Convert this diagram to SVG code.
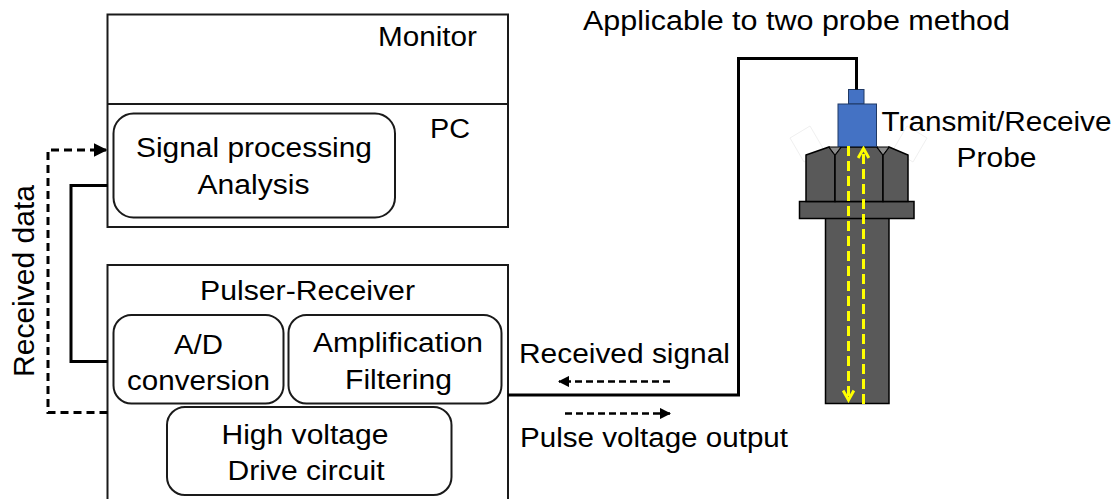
<svg xmlns="http://www.w3.org/2000/svg" width="1120" height="499" viewBox="0 0 1120 499">
  <style>
    .box { fill: #ffffff; stroke: #1a1a1a; stroke-width: 2; }
    .rbox { fill: #ffffff; stroke: #1a1a1a; stroke-width: 2; }
    .lbl { font-family: "Liberation Sans", Arial, sans-serif; font-size: 27px; fill: #000000; }
    .solid { fill: none; stroke: #000000; stroke-width: 3; }
    .dash { fill: none; stroke: #000000; stroke-width: 3; stroke-dasharray: 8 5; }
    .sdash { fill: none; stroke: #000000; stroke-width: 2.5; stroke-dasharray: 7 4; }
    .metal { fill: #595959; stroke: #000000; stroke-width: 1.5; }
    .blue { fill: #4472c4; stroke: #1f3864; stroke-width: 1; }
    .ray { fill: none; stroke: #ffff00; stroke-width: 3; stroke-dasharray: 10 5; }
  </style>
  <defs>
    <marker id="arrowBlack" viewBox="0 0 10 10" refX="9" refY="5" markerWidth="4.5" markerHeight="4.5" orient="auto" markerUnits="strokeWidth">
      <path d="M0,0 L10,5 L0,10 Z" fill="#000000"/>
    </marker>
    <marker id="arrowYellow" viewBox="0 0 10 10" refX="8" refY="5" markerWidth="4.5" markerHeight="4.5" orient="auto" markerUnits="strokeWidth">
      <path d="M1,1 L8,5 L1,9" fill="none" stroke="#ffff00" stroke-width="2.2"/>
    </marker>
  </defs>

  <!-- PC unit with monitor -->
  <g id="pc">
    <rect class="box" x="107.5" y="14.5" width="400.5" height="212.5"/>
    <line x1="107.5" y1="104" x2="508" y2="104" stroke="#1a1a1a" stroke-width="2"/>
    <text class="lbl" x="378" y="46" textLength="99" lengthAdjust="spacingAndGlyphs">Monitor</text>
    <text class="lbl" x="430" y="137.5" textLength="40" lengthAdjust="spacingAndGlyphs">PC</text>
  </g>
  <g id="signal-processing">
    <rect class="rbox" x="113.5" y="113.5" width="281.5" height="104" rx="20"/>
    <text class="lbl" x="136" y="156.5" textLength="236" lengthAdjust="spacingAndGlyphs">Signal processing</text>
    <text class="lbl" x="197.5" y="194" textLength="112" lengthAdjust="spacingAndGlyphs">Analysis</text>
  </g>

  <!-- Pulser-Receiver unit -->
  <g id="pulser-receiver">
    <rect class="box" x="107.5" y="265" width="400.5" height="245"/>
    <text class="lbl" x="200" y="300" textLength="215" lengthAdjust="spacingAndGlyphs">Pulser-Receiver</text>
  </g>
  <g id="ad-conversion">
    <rect class="rbox" x="113.5" y="315" width="170" height="88.5" rx="18"/>
    <text class="lbl" x="174" y="354" textLength="49" lengthAdjust="spacingAndGlyphs">A/D</text>
    <text class="lbl" x="127" y="390" textLength="143" lengthAdjust="spacingAndGlyphs">conversion</text>
  </g>
  <g id="amplification">
    <rect class="rbox" x="288.5" y="315" width="213" height="88.5" rx="18"/>
    <text class="lbl" x="313" y="351.5" textLength="170" lengthAdjust="spacingAndGlyphs">Amplification</text>
    <text class="lbl" x="345" y="388.5" textLength="107" lengthAdjust="spacingAndGlyphs">Filtering</text>
  </g>
  <g id="drive-circuit">
    <rect class="rbox" x="167" y="407" width="284.5" height="88" rx="18"/>
    <text class="lbl" x="221.5" y="444" textLength="167" lengthAdjust="spacingAndGlyphs">High voltage</text>
    <text class="lbl" x="227.5" y="480" textLength="157" lengthAdjust="spacingAndGlyphs">Drive circuit</text>
  </g>

  <!-- Probe on bolt -->
  <g id="probe">
    <!-- faint outlines behind the nut -->
    <polygon points="790,138 810,126 824,150 804,162" fill="none" stroke="#f0f0f0" stroke-width="1"/>
    <polygon points="893,150 907,126 927,138 913,162" fill="none" stroke="#f0f0f0" stroke-width="1"/>
    <!-- shank -->
    <rect class="metal" x="825.5" y="217" width="63.5" height="186.5"/>
    <!-- flange -->
    <rect class="metal" x="799.5" y="201.5" width="114.5" height="17"/>
    <!-- hex nut faces -->
    <polygon class="metal" points="806,155 829,147 835,155 835,201.5 806,201.5"/>
    <polygon class="metal" points="835,155 841,147 877,147 883,155 883,201.5 835,201.5"/>
    <polygon class="metal" points="883,155 889,147 908,155 908,201.5 883,201.5"/>
    <polygon points="829,147 841,147 835,155" fill="#8c8c8c" stroke="#000000" stroke-width="1"/>
    <polygon points="877,147 889,147 883,155" fill="#8c8c8c" stroke="#000000" stroke-width="1"/>
    <!-- transducer -->
    <rect class="blue" x="848.5" y="89.5" width="15.5" height="14.5"/>
    <rect class="blue" x="838" y="104" width="38.5" height="42.5"/>
    <!-- ultrasonic paths -->
    <line class="ray" x1="848.5" y1="146" x2="848.5" y2="400" marker-end="url(#arrowYellow)"/>
    <line class="ray" x1="863.5" y1="404" x2="863.5" y2="148.5" marker-end="url(#arrowYellow)"/>
    <text class="lbl" x="881.5" y="131" textLength="230" lengthAdjust="spacingAndGlyphs">Transmit/Receive</text>
    <text class="lbl" x="956.5" y="166.5" textLength="80" lengthAdjust="spacingAndGlyphs">Probe</text>
  </g>

  <g id="note">
    <text class="lbl" x="583" y="29.5" textLength="427" lengthAdjust="spacingAndGlyphs">Applicable to two probe method</text>
  </g>

  <!-- connectors -->
  <g id="connectors">
    <polyline class="solid" points="107.5,185.5 71,185.5 71,361.5 107.5,361.5"/>
    <polyline class="dash" points="107.5,412.5 48,412.5 48,150 106,150" marker-end="url(#arrowBlack)"/>
    <polyline class="solid" points="508,395 738.5,395 738.5,58.5 856.5,58.5 856.5,89.5"/>
    <line class="sdash" x1="670" y1="381.5" x2="559" y2="381.5" marker-end="url(#arrowBlack)"/>
    <line class="sdash" x1="565" y1="413.5" x2="670" y2="413.5" marker-end="url(#arrowBlack)"/>
    <text transform="translate(33.5,377) rotate(-90)" font-family="Liberation Sans, Arial, sans-serif" font-size="30" fill="#000000" textLength="192" lengthAdjust="spacingAndGlyphs">Received data</text>
    <text class="lbl" x="519" y="363" textLength="211" lengthAdjust="spacingAndGlyphs">Received signal</text>
    <text class="lbl" x="520" y="447" textLength="268" lengthAdjust="spacingAndGlyphs">Pulse voltage output</text>
  </g>
</svg>
